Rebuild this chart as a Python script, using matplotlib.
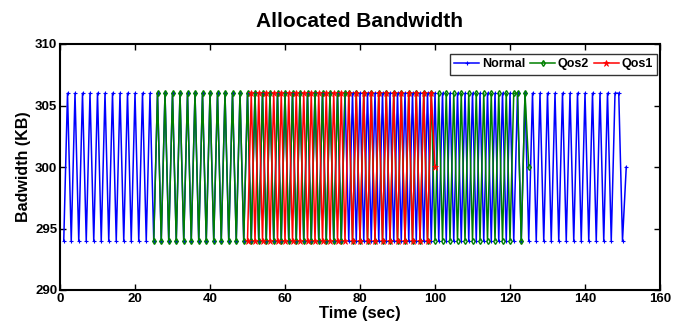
import matplotlib
matplotlib.use("Agg")
import matplotlib.pyplot as plt
import numpy as np

plt.rcParams["font.family"] = ["Liberation Sans", "DejaVu Sans"]
plt.rcParams["font.weight"] = "bold"

# Allocated bandwidth (KB) per second
normal_start, normal_end = 1, 151
normal_bw = [
    294, 306, 294, 306, 294, 306, 294, 306, 294, 306, 294, 306, 294, 306, 294, 306, 294, 306, 294, 306,
    294, 306, 294, 306, 294, 306, 294, 306, 294, 306, 294, 306, 294, 306, 294, 306, 294, 306, 294, 306,
    294, 306, 294, 306, 294, 306, 294, 306, 294, 306, 294, 306, 294, 306, 294, 306, 294, 306, 294, 306,
    294, 306, 294, 306, 294, 306, 294, 306, 294, 306, 294, 306, 294, 306, 294, 306, 294, 306, 294, 306,
    294, 306, 294, 306, 294, 306, 294, 306, 294, 306, 294, 306, 294, 306, 294, 306, 294, 306, 294, 306,
    294, 306, 294, 306, 294, 306, 294, 306, 294, 306, 294, 306, 294, 306, 294, 306, 294, 306, 294, 306,
    294, 306, 294, 306, 294, 306, 294, 306, 294, 306, 294, 306, 294, 306, 294, 306, 294, 306, 294, 306,
    294, 306, 294, 306, 294, 306, 294, 306,
    306, 294, 300,
]

qos2_start, qos2_end = 25, 125
qos2_bw = [
    294, 306, 294, 306, 294, 306, 294, 306, 294, 306, 294, 306, 294, 306, 294, 306, 294, 306, 294, 306,
    294, 306, 294, 306, 294, 306, 294, 306, 294, 306, 294, 306, 294, 306, 294, 306, 294, 306, 294, 306,
    294, 306, 294, 306, 294, 306, 294, 306, 294, 306, 294, 306,
    306, 294, 306, 294, 306, 294, 306, 294, 306, 294, 306, 294, 306, 294, 306, 294, 306, 294, 306, 294,
    306, 294, 306, 294, 306, 294, 306, 294, 306, 294, 306, 294, 306, 294, 306, 294, 306, 294, 306, 294,
    306, 294, 306, 294, 306,
    306, 294, 306, 300,
]

qos1_start, qos1_end = 50, 100
qos1_bw = [
    294, 306, 294, 306, 294, 306, 294, 306, 294, 306, 294, 306, 294, 306, 294, 306, 294, 306, 294, 306,
    294, 306, 294, 306, 294, 306, 294, 306, 294, 306, 294, 306, 294, 306, 294, 306, 294, 306, 294, 306,
    294, 306, 294, 306, 294, 306, 294, 306, 294, 306,
    300,
]

normal_t = np.arange(normal_start, normal_end + 1)
qos2_t = np.arange(qos2_start, qos2_end + 1)
qos1_t = np.arange(qos1_start, qos1_end + 1)

fig = plt.figure(figsize=(6.86, 3.32), dpi=100)
ax = fig.add_axes([60 / 686, 1 - 290 / 332, 600 / 686, 246 / 332])

ax.plot(normal_t, normal_bw, color="blue", lw=1.1, marker="+", ms=3, mew=0.8, label="Normal")
ax.plot(qos2_t, qos2_bw, color="green", lw=1.1, marker="d", ms=3, mfc="none", mew=1, label="Qos2")
ax.plot(qos1_t, qos1_bw, color="red", lw=1.1, marker="*", ms=5, mew=0.5, label="Qos1")

ax.set_xlim(0, 160)
ax.set_ylim(290, 310)
ax.set_xticks(np.arange(0, 161, 20))
ax.set_yticks(np.arange(290, 311, 5))
ax.tick_params(direction="in", length=4, width=1, top=True, right=True,
               labelsize=9.5, pad=2)
for lbl in ax.get_xticklabels() + ax.get_yticklabels():
    lbl.set_fontweight("bold")
for sp in ax.spines.values():
    sp.set_linewidth(1.5)

ax.set_title("Allocated Bandwidth", fontsize=15, fontweight="bold", pad=12)
ax.set_xlabel("Time (sec)", fontsize=12, fontweight="bold", labelpad=1)
ax.set_ylabel("Badwidth (KB)", fontsize=11.5, fontweight="bold", labelpad=3)

leg = ax.legend(loc="upper right", bbox_to_anchor=(0.995, 0.96), borderaxespad=0,
                ncol=3, frameon=True, fancybox=False,
                handlelength=2.0, handletextpad=0.2, columnspacing=0.4,
                borderpad=0.35, prop={"weight": "bold", "size": 9})
leg.get_frame().set_edgecolor("black")
leg.get_frame().set_linewidth(1)

fig.savefig("out.png", dpi=100)
